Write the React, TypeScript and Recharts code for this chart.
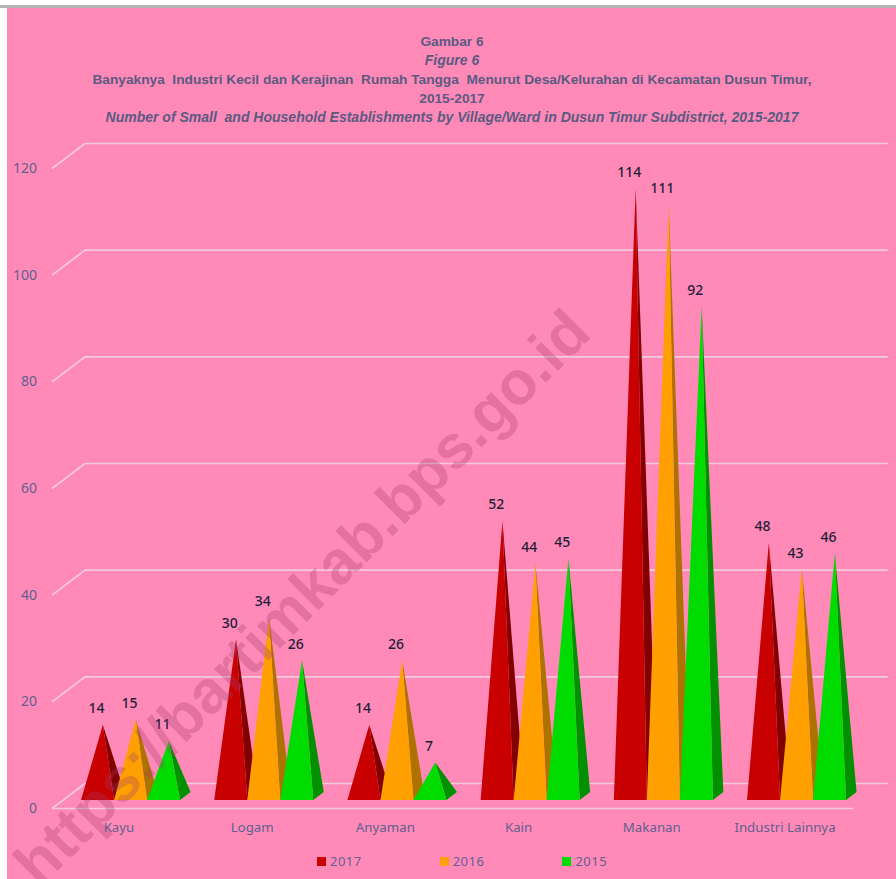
import React from "react";
import { BarChart, Bar, XAxis, YAxis, CartesianGrid, Legend, LabelList } from "recharts";

const categories = ["Kayu", "Logam", "Anyaman", "Kain", "Makanan", "Industri Lainnya"];
const values2017 = [14, 30, 14, 52, 114, 48];
const values2016 = [15, 34, 26, 44, 111, 43];
const values2015 = [11, 26, 7, 45, 92, 46];
const yTicks = [0, 20, 40, 60, 80, 100, 120];
const titleLines = [
  { text: "Gambar 6", italic: false },
  { text: "Figure 6", italic: true },
  { text: "Banyaknya  Industri Kecil dan Kerajinan  Rumah Tangga  Menurut Desa/Kelurahan di Kecamatan Dusun Timur,", italic: false },
  { text: "2015-2017", italic: false },
  { text: "Number of Small  and Household Establishments by Village/Ward in Dusun Timur Subdistrict, 2015-2017", italic: true },
];
const watermark = "https://bartimkab.bps.go.id";

const tableData = categories.map((name, i) => ({
  name,
  y2017: values2017[i],
  y2016: values2016[i],
  y2015: values2015[i],
}));

const PINK = "#FF8AB8";
const TEXT = "#5F6090";
const FONT = "'Noto Sans', 'Open Sans', sans-serif";
const BASE_Y = 800;
// The walls of the 3D box are slightly flatter than the pyramids' own scale.
const WALL_SCALE = 640 / 644;
const wallY = (y: number) => BASE_Y - (BASE_Y - y) * WALL_SCALE;

const Pyramid = (props: any) => {
  const { x, y, width, height, front, side } = props;
  const base = y + height;
  const apexX = x + width / 2 + 5.3;
  return (
    <g>
      <polygon points={`${x + width},${base} ${x + width + 10.5},${base - 8} ${apexX},${y}`} fill={side} />
      <polygon points={`${x},${base} ${x + width},${base} ${apexX},${y}`} fill={front} />
    </g>
  );
};

const PeakLabel = (props: any) => {
  const { x, y, width, value } = props;
  return (
    <text x={x + width / 2 - 1} y={y - 11.5} textAnchor="middle" fontFamily={FONT} fontSize={14} fontWeight={500} fill="#1E1E38">
      {value}
    </text>
  );
};

const GridLine = (props: any) => {
  const { x1, x2, y1 } = props;
  const wy = wallY(y1);
  const isZero = Math.abs(y1 - BASE_Y) < 1;
  return (
    <g>
      <path d={`M52 ${wy + 8.5} L85 ${wy - 16.5} L${x2 + 24} ${wy - 16.5}`} fill="none" stroke="#F1CBDC" strokeWidth={1.7} />
      {isZero ? <line x1={52} x2={x1 + 789} y1={wy + 8.5} y2={wy + 8.5} stroke="#F1CBDC" strokeWidth={1.7} /> : null}
    </g>
  );
};

const YTick = (props: any) => {
  const { y, payload } = props;
  return (
    <text x={37} y={wallY(y) + 13} textAnchor="end" fontFamily={FONT} fontSize={14} fill={TEXT}>
      {payload.value}
    </text>
  );
};

const XTick = (props: any) => {
  const { x, payload } = props;
  return (
    <text x={x - 12} y={832} textAnchor="middle" fontFamily={FONT} fontSize={13.3} fill={TEXT}>
      {payload.value}
    </text>
  );
};

const LegendBody = (props: any) => {
  const items = [...(props.payload || [])].sort((a: any, b: any) => Number(b.value) - Number(a.value));
  return (
    <div style={{ position: "relative", height: 20 }}>
      {items.map((item: any, i: number) => (
        <div key={item.value} style={{ position: "absolute", left: 317 + i * 122.7, top: 0, display: "flex", alignItems: "center", gap: 4, fontFamily: FONT, fontSize: 13, color: TEXT, letterSpacing: 0.5, lineHeight: "20px" }}>
          <span style={{ display: "inline-block", width: 9, height: 9, background: item.color }} />
          {item.value}
        </div>
      ))}
    </div>
  );
};

export default function App() {
  return (
    <div style={{ position: "absolute", left: 0, top: 0, width: 896, height: 879, overflow: "hidden", background: "#fff" }}>
      <div style={{ position: "absolute", left: 0, top: 5, width: 896, height: 3, background: "#B5B5B5" }} />
      <div style={{ position: "absolute", left: 7, top: 8, width: 889, height: 871, background: PINK }} />
      {titleLines.map((line, i) => (
        <div key={i} style={{ position: "absolute", left: 7, width: 890, top: 32 + i * 19, lineHeight: "19px", textAlign: "center", fontFamily: "'Liberation Sans', sans-serif", fontWeight: 700, fontStyle: line.italic ? "italic" : "normal", fontSize: line.italic ? 14 : 13.7, color: "#5A5A82", whiteSpace: "pre" }}>
          {line.text}
        </div>
      ))}
      <div style={{ position: "absolute", left: 0, top: 0 }}>
        <BarChart
          width={896}
          height={879}
          data={tableData}
          margin={{ top: 156, right: 32.4, bottom: 0, left: 0 }}
          barCategoryGap="12.5%"
          barGap={0}
        >
          <CartesianGrid vertical={false} horizontal={(p: any) => <GridLine key={p.key} {...p} />} />
          <XAxis dataKey="name" axisLine={false} tickLine={false} tick={<XTick />} height={59} interval={0} />
          <YAxis domain={[0, 120]} ticks={yTicks} width={64.4} axisLine={false} tickLine={false} tick={<YTick />} />
          <Legend verticalAlign="bottom" height={20} content={<LegendBody />} wrapperStyle={{ left: 0, width: 896, bottom: 8 }} />
          <Bar dataKey="y2017" name="2017" fill="#C80000" isAnimationActive={false} shape={<Pyramid front="#C80000" side="#820000" />}>
            <LabelList dataKey="y2017" content={<PeakLabel />} />
          </Bar>
          <Bar dataKey="y2016" name="2016" fill="#FFA000" isAnimationActive={false} shape={<Pyramid front="#FFA000" side="#AE7200" />}>
            <LabelList dataKey="y2016" content={<PeakLabel />} />
          </Bar>
          <Bar dataKey="y2015" name="2015" fill="#00DC00" isAnimationActive={false} shape={<Pyramid front="#00DC00" side="#009000" />}>
            <LabelList dataKey="y2015" content={<PeakLabel />} />
          </Bar>
        </BarChart>
      </div>
      <div style={{ position: "absolute", left: 25, top: 844, width: 860, transform: "rotate(-45deg)", transformOrigin: "0 50%", fontFamily: "'Liberation Sans', sans-serif", fontWeight: 700, fontSize: 61, lineHeight: "60px", color: "rgba(165,60,105,0.3)", whiteSpace: "nowrap", pointerEvents: "none" }}>
        {watermark}
      </div>
    </div>
  );
}
